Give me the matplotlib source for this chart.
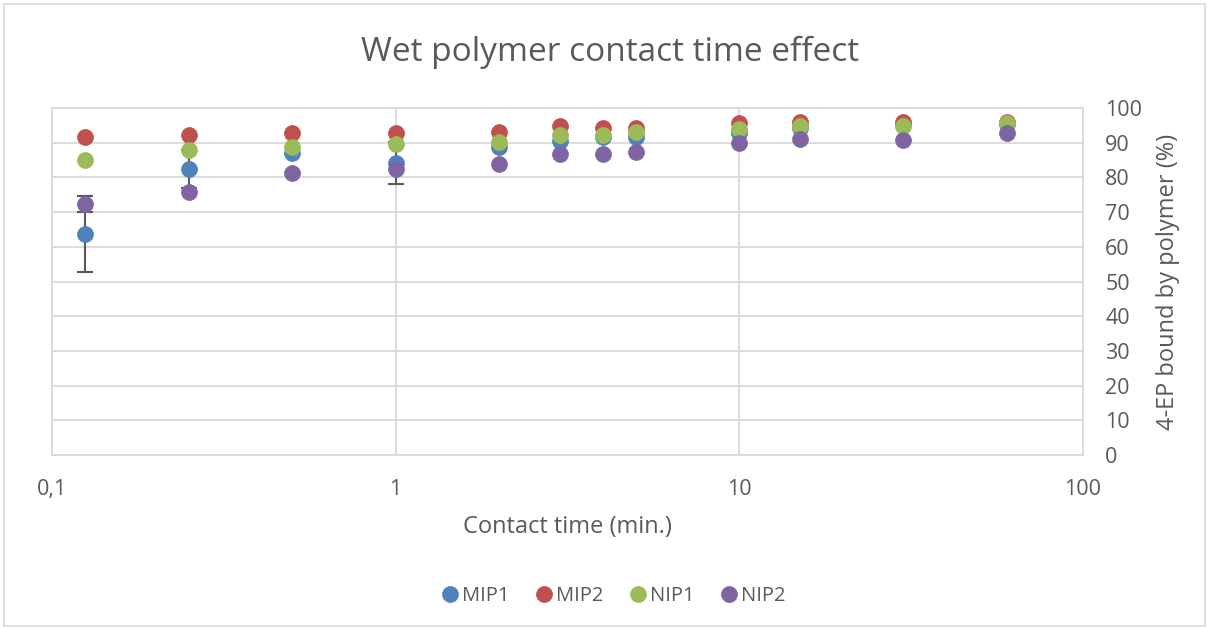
import numpy as np
import matplotlib
matplotlib.use('Agg')
import matplotlib.pyplot as plt
from matplotlib.patches import Rectangle

plt.rcParams['font.family'] = ['Open Sans', 'DejaVu Sans']

# Contact time (min.)
contact_time = [0.125, 0.25, 0.5, 1, 2, 3, 4, 5, 10, 15, 30, 60]

# 4-EP bound by polymer (%)
mip1 = [63.7, 82.4, 86.9, 84.2, 88.8, 90.6, 91.5, 91.5, 92.7, 94.1, 95.0, 95.4]
mip2 = [91.6, 92.3, 92.9, 92.9, 93.2, 94.8, 94.1, 94.1, 95.8, 96.0, 96.0, 96.1]
nip1 = [85.0, 87.9, 88.7, 89.5, 90.3, 92.2, 92.3, 93.1, 94.0, 94.8, 94.8, 95.6]
nip2 = [72.3, 75.7, 81.3, 82.5, 84.0, 86.7, 86.7, 87.4, 89.8, 91.0, 90.8, 92.7]

# error bars (only the visible ones)
mip1_err = [10.9, 5.5, 0, 6.1, 0, 0, 0, 0, 0, 0, 0, 0]
mip2_err = [0] * 12
nip1_err = [0] * 12
nip2_err = [2.3, 0, 0, 0, 0, 0, 0, 0, 0, 0, 0, 0]

series = [
    ('MIP1', mip1, mip1_err, '#4F81BD'),
    ('MIP2', mip2, mip2_err, '#C0504D'),
    ('NIP1', nip1, nip1_err, '#9BBB59'),
    ('NIP2', nip2, nip2_err, '#8064A2'),
]

text_col = '#595959'
grid_col = '#d9d9d9'

fig = plt.figure(figsize=(12.09, 6.28), dpi=100)
ax = fig.add_axes([52 / 1209, 1 - 455 / 628, (1083 - 52) / 1209, (455 - 108) / 628])

for name, vals, err, col in series:
    errs = np.array(err, dtype=float)
    ax.errorbar(contact_time, vals, yerr=np.where(errs > 0, errs, np.nan), fmt='none',
                ecolor='#595959', elinewidth=1.5, capsize=6, capthick=1.5, zorder=2)
    ax.plot(contact_time, vals, 'o', color=col, ms=11.5, mec=col, mew=0.5,
            label=name, zorder=3)

ax.set_xscale('log')
ax.set_xlim(0.1, 100)
ax.set_ylim(0, 100)
ax.set_xticks([0.1, 1, 10, 100])
ax.set_xticklabels(['0,1', '1', '10', '100'])
ax.xaxis.set_minor_locator(matplotlib.ticker.NullLocator())
ax.set_yticks(np.arange(0, 101, 10))

ax.yaxis.tick_right()
ax.yaxis.set_label_position('right')
ax.tick_params(axis='both', length=0, labelsize=15.5, colors=text_col)
ax.tick_params(axis='x', pad=17)
ax.tick_params(axis='y', pad=16)

ax.grid(True, color=grid_col, linewidth=1.3)
ax.set_axisbelow(True)
for sp in ax.spines.values():
    sp.set_color(grid_col)
    sp.set_linewidth(1.3)

ax.set_xlabel('Contact time (min.)', fontsize=17, color=text_col, labelpad=11)
ax.set_ylabel('4-EP bound by polymer (%)', fontsize=17, color=text_col, labelpad=10)

fig.text(0.505, 1 - 52 / 628, 'Wet polymer contact time effect', ha='center', va='center',
         fontsize=24, color=text_col)

handles, labels = ax.get_legend_handles_labels()
fig.legend(handles, labels, loc='center', bbox_to_anchor=(0.506, 1 - 596 / 628), ncol=4,
           frameon=False, fontsize=14.5, labelcolor=text_col, handletextpad=0.0,
           columnspacing=1.1, handlelength=1.2, markerscale=1.0)

fig.patches.append(Rectangle((0.003, 0.003), 0.994, 0.99, transform=fig.transFigure,
                             fill=False, edgecolor=grid_col, linewidth=1.2))

fig.savefig('out.png', dpi=100)
